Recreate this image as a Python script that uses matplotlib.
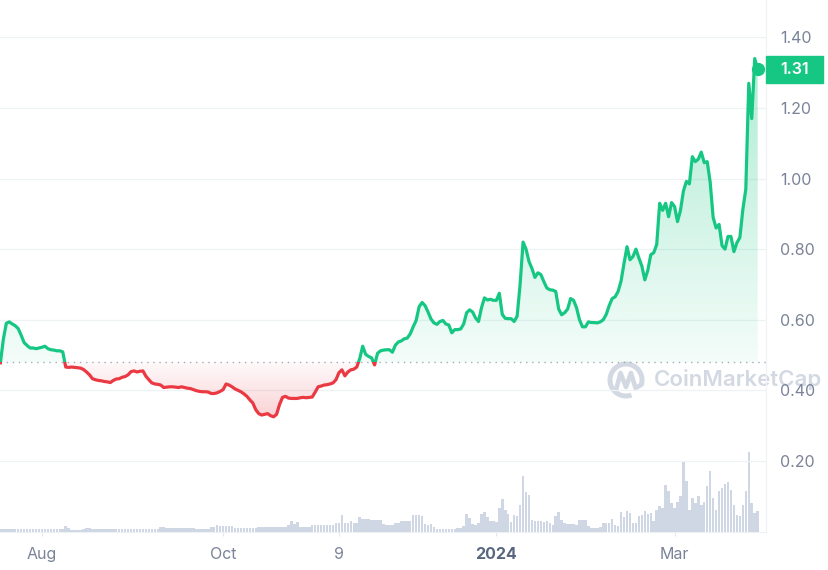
import matplotlib
matplotlib.use('Agg')
import matplotlib.pyplot as plt
import matplotlib.dates as mdates
import matplotlib.colors as mcolors
import numpy as np
import pandas as pd
from matplotlib.patches import Rectangle, Arc
from matplotlib.transforms import blended_transform_factory

# ---------------- data ----------------
start_date = '2023-07-18'
price = [
    0.478, 0.545, 0.59, 0.594, 0.588, 0.583, 0.575, 0.556, 0.535, 0.527,
    0.52, 0.52, 0.518, 0.52, 0.522, 0.525, 0.518, 0.515, 0.514, 0.512,
    0.512, 0.509,
    0.466, 0.465, 0.466, 0.465, 0.464, 0.463, 0.459, 0.452, 0.444, 0.433,
    0.43, 0.428, 0.427, 0.425, 0.424, 0.422, 0.428, 0.432, 0.433,
    0.437, 0.439, 0.444, 0.453, 0.455, 0.452, 0.454, 0.455, 0.44, 0.43,
    0.421, 0.418, 0.417, 0.415, 0.408, 0.409, 0.41, 0.41, 0.409, 0.408,
    0.41, 0.408, 0.406, 0.405, 0.402, 0.399, 0.397, 0.396, 0.396, 0.395,
    0.391, 0.391, 0.393, 0.397, 0.402, 0.418, 0.415, 0.41, 0.404, 0.40,
    0.396, 0.39, 0.383, 0.373, 0.364, 0.345, 0.334, 0.33, 0.332, 0.334,
    0.328, 0.325, 0.332, 0.36, 0.38, 0.383, 0.378, 0.377, 0.377, 0.377,
    0.379, 0.38, 0.379, 0.38, 0.381, 0.395, 0.41, 0.412, 0.415, 0.416,
    0.418, 0.421, 0.43, 0.45, 0.458, 0.441, 0.452, 0.458, 0.46, 0.466,
    0.49, 0.525, 0.502, 0.496, 0.492, 0.472, 0.505, 0.512, 0.514, 0.515,
    0.515, 0.508, 0.528, 0.537, 0.54, 0.546, 0.548, 0.56, 0.58, 0.598,
    0.637, 0.649, 0.64, 0.622, 0.602, 0.591, 0.587, 0.595, 0.598, 0.588,
    0.585, 0.563, 0.572, 0.572, 0.574, 0.588, 0.62, 0.628, 0.622, 0.605,
    0.595, 0.634, 0.662, 0.656, 0.658, 0.655, 0.655, 0.675, 0.615, 0.604,
    0.603, 0.603, 0.595, 0.61, 0.70, 0.82, 0.80, 0.765, 0.745, 0.72,
    0.733, 0.728, 0.708, 0.69, 0.685, 0.684, 0.68, 0.63, 0.614, 0.62,
    0.63, 0.66, 0.655, 0.634, 0.60, 0.58, 0.58, 0.594, 0.592, 0.592,
    0.591, 0.594, 0.60, 0.615, 0.64, 0.66, 0.665, 0.68, 0.71, 0.76,
    0.807, 0.77, 0.779, 0.80, 0.775, 0.752, 0.713, 0.74, 0.784, 0.79,
    0.813, 0.93, 0.91, 0.93, 0.892, 0.932, 0.921, 0.878, 0.91, 0.965,
    0.992, 0.985, 1.062, 1.048, 1.055, 1.075, 1.045, 1.048, 0.99, 0.89,
    0.86, 0.87, 0.81, 0.80, 0.836, 0.836, 0.793, 0.818, 0.833, 0.912,
    0.97, 1.27, 1.17, 1.34, 1.31,
]
volume = [  # millions (estimated)
    3, 3, 3, 2.5, 2.5, 2.5, 2.5, 3, 3, 3, 3, 2.5, 2.5, 2.5, 2.5, 3, 3, 3, 3, 2.5, 3,
    3, 6, 4, 2, 2, 2, 2, 3, 3.5, 3.5, 3, 2.5, 2.5, 2.5, 2.5, 2.5, 3, 2.5, 2.5, 2.5,
    3, 3, 3, 3, 3, 3, 3, 3, 3, 3, 3, 3, 3, 5, 5, 3.5, 3.5, 3.5, 3.5, 3.5,
    3.5, 4, 4, 4, 4, 3, 3, 3, 3, 3, 5, 5, 7, 6, 6, 6, 6, 6, 3.5, 3.5,
    3.5, 3.5, 4, 4, 4, 4, 4.5, 4.5, 4.5, 4.5, 4.5, 5, 5, 5, 5, 5, 7, 11, 8, 10,
    5, 5, 5, 5, 7, 7, 7, 7, 7, 7, 7, 7, 9, 9, 17, 9, 9, 11, 9, 9,
    15, 13, 13, 13, 12, 12, 12, 12, 8, 7, 7, 7, 9, 9, 11, 11, 11, 11, 17, 17,
    17, 16, 8, 7, 8, 5, 3, 3, 3, 3, 3, 3, 3, 3.5, 3.5, 6, 18, 14, 8, 7,
    9, 18, 20, 15, 11, 11, 10, 24, 33, 22, 18, 10, 17, 16, 27, 56, 40, 37, 12, 11,
    11, 11, 10, 11, 9, 7, 16, 20, 12, 9, 8, 8, 8, 7, 12, 12, 12, 6, 4, 4,
    4, 5, 9, 9, 9, 13, 7, 6, 20, 15, 21, 19, 9, 9, 16, 17, 21, 18, 19, 11,
    22, 26, 24, 47, 41, 29, 24, 30, 36, 70, 51, 22, 34, 29, 36, 27, 30, 46, 61, 34,
    22, 41, 44, 48, 50, 42, 27, 17, 16, 27, 41, 80, 29, 19, 21,
]
baseline_price = 0.48
y_ticks = [0.20, 0.40, 0.60, 0.80, 1.00, 1.20, 1.40]
tick_dates = ['2023-08-01', '2023-10-01', '2023-11-09', '2024-01-01', '2024-03-01']
tick_labels = ['Aug', 'Oct', '9', '2024', 'Mar']

# ---------------- style ----------------
plt.rcParams['font.family'] = ['Inter', 'DejaVu Sans']
GREEN = '#16c784'
RED = '#ea3943'
GRID = '#eff2f5'
LABEL = '#7a8397'
VOL = '#cfd6e4'

W, H = 829, 570
fig = plt.figure(figsize=(W / 100, H / 100), dpi=100)
fig.patch.set_facecolor('white')

# watermark layer (behind chart)
ov = fig.add_axes([0, 0, 1, 1], zorder=0)
ov.set_xlim(0, W)
ov.set_ylim(H, 0)
ov.axis('off')
wm = '#d3d9e3'
ov.add_patch(Arc((626, 380), 32, 32, theta1=70, theta2=20, lw=3.6, color=wm))
ov.plot([616, 620.5, 626, 631, 635.5, 641], [390, 373, 387, 373, 388, 385],
        color=wm, lw=3.3, solid_capstyle='round', solid_joinstyle='round')
ov.text(654, 380, 'CoinMarketCap', fontsize=16, color=wm, fontweight='semibold',
        va='center', ha='left')

ax_bottom_px = 531.5
ax_right_px = 766
ax = fig.add_axes([0, (H - ax_bottom_px) / H, ax_right_px / W, ax_bottom_px / H], zorder=2)
ax2 = ax.twinx()
ax2.set_zorder(1)
ax.patch.set_visible(False)
ax2.patch.set_visible(False)

dates = pd.date_range(start_date, periods=len(price), freq='D')
xn = mdates.date2num(dates)
p = np.array(price)
base = baseline_price

# volume
ax2.bar(xn, volume, width=0.85, color=VOL, linewidth=0, align='center')
ax2.set_ylim(0, max(volume) * ax_bottom_px / 80.0)
ax2.set_yticks([])
for s in ax2.spines.values():
    s.set_visible(False)

# gradient fill between price and baseline
ytop = 1.36
ybot = p.min() - 0.005
ny = 500
yy = np.linspace(ybot, ytop, ny)
rgba = np.zeros((ny, 2, 4))
g = np.array(mcolors.to_rgb(GREEN))
r = np.array(mcolors.to_rgb(RED))
above = yy >= base
a_g = 0.05 + 0.30 * np.clip((yy - base) / (ytop - base), 0, 1)
a_r = 0.03 + 0.20 * np.clip((base - yy) / (base - ybot), 0, 1)
rgba[above, :, :3] = g
rgba[above, :, 3] = a_g[above][:, None]
rgba[~above, :, :3] = r
rgba[~above, :, 3] = a_r[~above][:, None]
im = ax.imshow(rgba, extent=[xn[0], xn[-1], ybot, ytop], origin='lower',
               aspect='auto', interpolation='bilinear', zorder=1)
poly = ax.fill_between(xn, p, base, facecolor='none', edgecolor='none')
im.set_clip_path(poly.get_paths()[0], transform=ax.transData)

# baseline dotted
ax.axhline(base, color='#a3abb8', lw=1.0, ls=(0, (1, 3.4)), zorder=2)

# price line, green above / red below baseline
clip_up = Rectangle((xn[0] - 10, base), 400, 10, transform=ax.transData)
clip_dn = Rectangle((xn[0] - 10, base - 10), 400, 10, transform=ax.transData)
lg, = ax.plot(xn, p, color=GREEN, lw=2.3, zorder=3, solid_joinstyle='round')
lg.set_clip_path(clip_up)
lr, = ax.plot(xn, p, color=RED, lw=2.3, zorder=3, solid_joinstyle='round')
lr.set_clip_path(clip_dn)
ax.plot(xn[-1], p[-1], 'o', ms=8.5, color=GREEN, zorder=5, clip_on=False)

# limits
ax.set_xlim(xn[0] - 0.13, xn[0] + 257.8)
ax.set_ylim(0, 1.506)

# grid / axes
ax.set_yticks(y_ticks)
ax.set_yticklabels([f'{v:.2f}' for v in y_ticks])
ax.yaxis.tick_right()
ax.grid(axis='y', color=GRID, lw=0.9)
ax.set_axisbelow(True)
ax.tick_params(axis='y', length=0, pad=10, labelsize=11.5, labelcolor=LABEL)
ax.set_xticks(mdates.date2num(pd.to_datetime(tick_dates)))
ax.set_xticklabels(tick_labels)
ax.tick_params(axis='x', length=3, width=0.8, color='#e3e7ee', pad=8,
               labelsize=11.5, labelcolor=LABEL)
for t in ax.get_xticklabels():
    if t.get_text().isdigit() and len(t.get_text()) == 4:
        t.set_fontweight('bold')
        t.set_color('#58667e')
for k in ['top', 'left']:
    ax.spines[k].set_visible(False)
ax.spines['right'].set_color(GRID)
ax.spines['bottom'].set_color(GRID)

# price tag
trans = blended_transform_factory(ax.transAxes, ax.transData)
tag_h = 27 * 1.506 / ax_bottom_px
tag_w = 57 / ax_right_px
ax.add_patch(Rectangle((1.0, p[-1] - tag_h / 2), tag_w, tag_h, transform=trans,
                       color=GREEN, clip_on=False, zorder=6))
ax.text(1.0 + tag_w / 2, p[-1], f'{p[-1]:.2f}', transform=trans, color='white',
        fontsize=11.5, fontweight='semibold', ha='center', va='center',
        zorder=7, clip_on=False)

fig.savefig('out.png', dpi=100, facecolor='white')
